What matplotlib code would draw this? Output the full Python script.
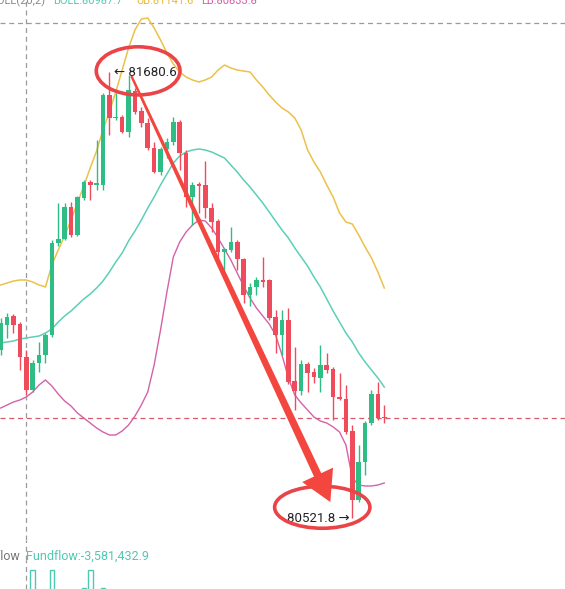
import matplotlib
matplotlib.use("Agg")
import matplotlib.pyplot as plt
import numpy as np
from matplotlib.patches import Ellipse, Polygon
from matplotlib.transforms import IdentityTransform

FONT = ["Roboto", "DejaVu Sans"]

# candles (BTC)
opens = [80958.4, 81023.3, 81046.7, 81025.9, 80940.2, 80854.5, 80924.6, 80945.4, 80997.4, 81236.4,
         81246.8, 81329.9, 81257.2, 81353.3, 81394.9, 81387.1, 81387.1, 81620.9, 81561.1, 81563.7,
         81524.8, 81631.3, 81579.3, 81548.1, 81483.2, 81420.8, 81480.6, 81498.8, 81550.7, 81470.2,
         81355.9, 81389.7, 81387.1, 81327.3, 81293.5, 81213.0, 81218.2, 81239.0, 81194.8, 81101.3,
         81122.1, 81140.3, 81140.3, 81044.1, 80997.4, 81036.3, 80877.9, 80851.9, 80922.0, 80901.2,
         80885.7, 80919.4, 80909.0, 80836.3, 80831.1, 80748.0, 80568.7, 80667.4, 80768.7, 80844.1,
         80784.3]
highs = [81041.5, 81054.5, 81051.9, 81031.1, 80958.4, 80932.4, 80979.2, 81002.6, 81244.2, 81340.3,
         81340.3, 81342.9, 81358.5, 81400.1, 81400.1, 81504.0, 81626.1, 81680.6, 81626.1, 81568.9,
         81672.8, 81639.1, 81589.7, 81561.1, 81498.8, 81485.8, 81509.2, 81563.7, 81555.9, 81478.0,
         81394.9, 81394.9, 81449.4, 81340.3, 81298.7, 81223.4, 81278.0, 81244.2, 81197.4, 81132.5,
         81148.1, 81200.0, 81142.9, 81062.3, 81062.3, 81067.5, 80966.2, 80932.4, 80927.2, 80911.6,
         80971.4, 80950.6, 80914.2, 80898.6, 80867.5, 80763.5, 80711.6, 80773.9, 80854.5, 80875.3,
         80815.5]
lows = [80945.4, 80989.6, 81002.6, 80906.4, 80841.5, 80849.3, 80901.2, 80924.6, 80992.2, 81228.6,
        81244.2, 81252.0, 81254.6, 81348.1, 81348.1, 81374.1, 81374.1, 81517.0, 81555.9, 81522.2,
        81511.8, 81571.5, 81537.8, 81478.0, 81418.2, 81413.0, 81457.2, 81491.0, 81426.0, 81329.9,
        81283.1, 81314.3, 81301.3, 81265.0, 81197.4, 81166.2, 81213.0, 81166.2, 81080.5, 81072.7,
        81101.3, 81122.1, 81036.3, 80950.6, 80945.4, 80870.1, 80802.5, 80841.5, 80849.3, 80872.7,
        80849.3, 80898.6, 80776.5, 80828.5, 80740.2, 80521.8, 80563.5, 80633.6, 80763.5, 80776.5,
        80768.7]
closes = [81028.5, 81044.1, 81023.3, 80940.2, 80854.5, 80924.6, 80945.4, 80997.4, 81236.4, 81246.8,
          81329.9, 81257.2, 81355.9, 81394.9, 81387.1, 81392.3, 81620.9, 81561.1, 81563.7, 81524.8,
          81633.9, 81576.7, 81548.1, 81483.2, 81420.8, 81480.6, 81498.8, 81550.7, 81470.2, 81355.9,
          81387.1, 81384.5, 81327.3, 81290.9, 81213.0, 81220.8, 81239.0, 81194.8, 81101.3, 81122.1,
          81140.3, 81135.1, 81041.5, 80997.4, 81036.3, 80875.3, 80851.9, 80922.0, 80898.6, 80888.3,
          80919.4, 80906.4, 80836.3, 80831.1, 80745.4, 80568.7, 80667.4, 80768.7, 80844.1, 80781.7,
          80781.7]

# bollinger bands (20,2)
boll_up = [81127.3, 81132.5, 81137.7, 81140.3, 81140.3, 81135.1, 81127.3, 81122.1, 81179.2, 81218.2,
           81254.6, 81296.1, 81340.3, 81384.5, 81431.2, 81475.4, 81530.0, 81576.7, 81628.7, 81685.8,
           81743.0, 81789.8, 81818.3, 81820.9, 81795.0, 81763.8, 81730.0, 81701.4, 81680.6, 81667.7,
           81659.9, 81654.7, 81659.9, 81667.7, 81685.8, 81698.8, 81691.0, 81685.8, 81683.2, 81680.6,
           81659.9, 81641.7, 81620.9, 81602.7, 81587.1, 81576.7, 81561.1, 81530.0, 81478.0, 81446.8,
           81420.8, 81387.1, 81355.9, 81314.3, 81290.9, 81285.7, 81257.2, 81226.0, 81197.4, 81161.0,
           81119.5]
boll_mid = [80976.6, 80979.2, 80981.8, 80987.0, 80989.6, 80992.2, 80994.8, 81002.6, 81013.0, 81031.1,
            81046.7, 81059.7, 81075.3, 81090.9, 81103.9, 81119.5, 81137.7, 81161.0, 81187.0, 81210.4,
            81241.6, 81267.6, 81296.1, 81327.3, 81355.9, 81387.1, 81415.6, 81444.2, 81462.4, 81472.8,
            81478.0, 81480.6, 81478.0, 81472.8, 81465.0, 81457.2, 81439.0, 81420.8, 81400.1, 81381.9,
            81361.1, 81340.3, 81316.9, 81293.5, 81270.2, 81249.4, 81223.4, 81200.0, 81176.6, 81148.1,
            81122.1, 81090.9, 81059.7, 81031.1, 81002.6, 80979.2, 80950.6, 80927.2, 80906.4, 80885.7,
            80862.3]
boll_low = [80807.7, 80815.5, 80823.3, 80828.5, 80836.3, 80849.3, 80867.5, 80880.5, 80864.9, 80844.1,
            80825.9, 80812.9, 80794.7, 80781.7, 80768.7, 80755.8, 80745.4, 80737.6, 80737.6, 80748.0,
            80763.5, 80786.9, 80815.5, 80849.3, 80919.4, 81010.4, 81109.1, 81200.0, 81239.0, 81265.0,
            81283.1, 81296.1, 81293.5, 81275.4, 81249.4, 81220.8, 81192.2, 81158.4, 81124.7, 81093.5,
            81067.5, 81046.7, 81025.9, 80997.4, 80945.4, 80885.7, 80841.5, 80820.7, 80802.5, 80784.3,
            80773.9, 80768.7, 80758.4, 80745.4, 80711.6, 80625.9, 80607.7, 80605.1, 80605.1, 80607.7,
            80612.9]

last_price = 80781.7
cross_idx = 4
cross_price = 81808.0
legend_items = [("BOLL(20,2)", "#8a8a8a"), ("BOLL:80987.7", "#4fc9b2"),
                ("UB:81141.6", "#e9b93a"), ("LB:80833.8", "#d35aa6")]
fundflow_label = "Fundflow:-3,581,432.9"
ff_idx = [5, 8, 13, 14, 16]
ff_vals = [2.0e6, 2.0e6, 0.2e6, 2.0e6, 0.2e6]

UP = "#2ebd85"
DOWN = "#f04b5b"
MARK = "#ea4448"

W, H = 565, 589
fig = plt.figure(figsize=(W / 100, H / 100), dpi=100)
fig.patch.set_facecolor("white")

# main price axes: occupies top 540 px
ax = fig.add_axes([0, (H - 540) / H, 1, 540 / H])
step = 6.393
ax.set_xlim(-0.7 / step, (W - 0.7) / step)
ax.set_ylim(81867.7 - 2.598 * 540, 81867.7)
ax.axis("off")

opens = np.array(opens)
closes = np.array(closes)
idx = np.arange(len(opens))
up = closes >= opens
colors = np.where(up, UP, DOWN)

ax.vlines(idx, lows, highs, colors=colors, lw=1.0, zorder=3)
body_lo = np.minimum(opens, closes)
body_h = np.maximum(np.abs(closes - opens), 2.6)
ax.bar(idx, body_h, bottom=body_lo, width=0.72, color=colors, lw=0, zorder=4)

ax.plot(idx, boll_up, color="#ecc14a", lw=1.1, zorder=2)
ax.plot(idx, boll_mid, color="#5ccfb8", lw=1.1, zorder=2)
ax.plot(idx, boll_low, color="#d462a8", lw=1.0, zorder=2)

# crosshair and last price line
ax.axhline(cross_price, color="#9a9a9a", lw=0.9, ls=(0, (4, 3)), zorder=1)
ax.axvline(cross_idx, color="#9a9a9a", lw=0.9, ls=(0, (4, 3)), zorder=1)
ax.axhline(last_price, color="#d65b6b", lw=0.9, ls=(0, (4, 3)), zorder=1)

# high / low labels
hi_i = int(np.argmax(highs))
lo_i = int(np.argmin(lows))
ax.annotate("\u2190 " + f"{highs[hi_i]:.1f}", (hi_i, highs[hi_i]), xytext=(3, 0),
            textcoords="offset points", ha="left", va="center", fontsize=9.5,
            family=FONT, color="#222222", zorder=6)
ax.annotate(f"{lows[lo_i]:.1f}" + " \u2192", (lo_i, lows[lo_i]), xytext=(-2, 0),
            textcoords="offset points", ha="right", va="center", fontsize=9.5,
            family=FONT, color="#222222", zorder=6)

# circles around the labels
ax.add_patch(Ellipse((hi_i + 4.5, highs[hi_i] + 3), 13.1, 125, fill=False,
                     ec=MARK, lw=2.6, zorder=7))
ax.add_patch(Ellipse((lo_i - 4.7, lows[lo_i] + 28), 14.9, 109, fill=False,
                     ec=MARK, lw=2.6, zorder=7))

# tapered arrow from high to low
fig.canvas.draw()
p0 = ax.transData.transform((hi_i, highs[hi_i])) + np.array([22, -4])
p1 = ax.transData.transform((lo_i, lows[lo_i])) + np.array([-22, 16])
d = (p1 - p0) / np.linalg.norm(p1 - p0)
n = np.array([-d[1], d[0]])
head_len, head_w, w0, w1 = 30, 17, 1.2, 4.0
base = p1 - d * head_len
pts = [p0 + n * w0, base + n * w1, base + n * head_w, p1,
       base - n * head_w, base - n * w1, p0 - n * w0]
fig.patches.append(Polygon(pts, closed=True, transform=IdentityTransform(),
                           fc="#f2463f", ec="none", zorder=8, figure=fig))

# fundflow panel at the bottom
ax2 = fig.add_axes([0, 0, 1, 29 / H])
ax2.set_xlim(ax.get_xlim())
ax2.set_ylim(0.05e6, 2.95e6)
ax2.axis("off")
ax2.bar(ff_idx, ff_vals, width=0.72, fill=False, ec="#4fc9b2", lw=1.0)
ax2.axvline(cross_idx, color="#9a9a9a", lw=0.9, ls=(0, (4, 3)))
fig.add_artist(plt.Line2D([ax.transData.transform((cross_idx, 0))[0] / W] * 2,
                          [29 / H, 49 / H], color="#9a9a9a", lw=0.9, ls=(0, (4, 3))))

fig.text(20 / W, 1 - 556 / H, "Fundflow", ha="right", va="center", fontsize=9,
         family=FONT, color="#777777")
fig.text(26 / W, 1 - 556 / H, fundflow_label, ha="left", va="center", fontsize=9,
         family=FONT, color="#4fc9b2")

# indicator legend, cut off by the top edge
x_pos = [-10, 53, 136, 201]
for (txt, col), xp in zip(legend_items, x_pos):
    fig.text(xp / W, 1 - 4.5 / H, txt, ha="left", va="baseline", fontsize=8,
             family=FONT, color=col)

fig.savefig("out.png", dpi=100, facecolor="white")
